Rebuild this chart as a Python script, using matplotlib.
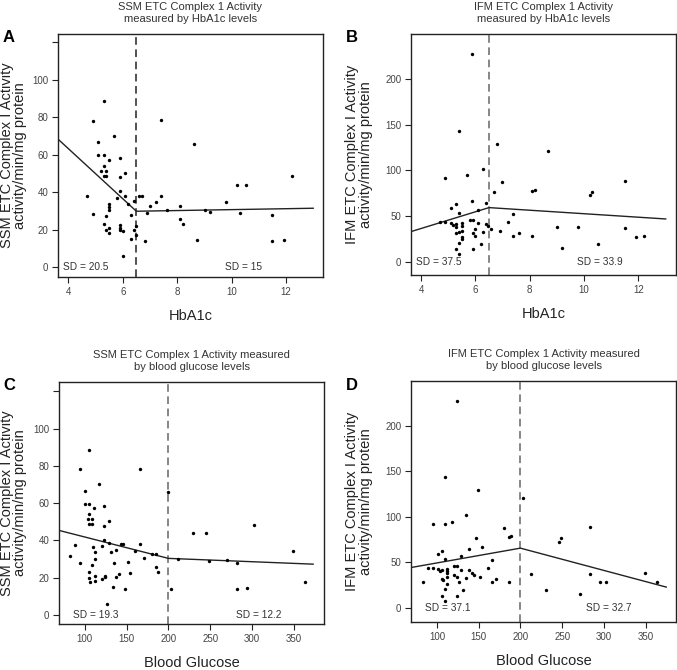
import matplotlib
matplotlib.use("Agg")
import matplotlib.pyplot as plt
import matplotlib.transforms as mtransforms

plt.rcParams["font.family"] = ["Liberation Sans", "DejaVu Sans"]

# ---- data ----
# Panel A: SSM vs HbA1c
ssm_hba1c_x = [5.30, 4.89, 7.41, 5.69, 5.10, 8.61, 5.10, 5.30, 5.50, 5.90, 5.30, 5.20, 5.40,
               5.30, 5.40, 5.90, 6.10, 12.21, 10.21, 10.52, 4.70, 5.80, 5.90, 6.10, 5.50, 5.50,
               5.50, 6.21, 6.40, 6.60, 6.71, 7.41, 7.01, 7.21, 8.11, 7.61, 6.90, 9.01, 9.21,
               9.81, 10.31, 11.50, 4.89, 5.40, 6.30, 8.11, 8.20, 5.30, 5.40, 5.50, 5.50, 5.90,
               5.90, 5.90, 6.00, 6.40, 6.50, 6.30, 6.50, 6.81, 8.72, 11.50, 11.92, 6.00]
ssm_hba1c_y = [88.4, 78.1, 78.5, 70.1, 66.5, 65.8, 59.6, 59.6, 57.3, 58.2, 54.1, 51.4, 51.1,
               48.8, 48.8, 48.0, 50.2, 48.4, 43.9, 43.9, 37.7, 36.8, 40.4, 38.1, 33.8, 32.0,
               30.2, 33.6, 35.1, 38.1, 38.1, 37.7, 32.7, 34.5, 32.7, 30.6, 28.8, 30.2, 29.2,
               34.5, 28.8, 27.6, 28.1, 27.2, 27.9, 25.6, 23.1, 23.0, 19.9, 18.1, 20.8, 22.6,
               20.8, 19.9, 19.0, 19.9, 21.7, 14.9, 17.3, 14.1, 14.2, 14.1, 14.6, 5.7]
ssm_hba1c_fit_x = [3.62, 6.5, 13.0]
ssm_hba1c_fit_y = [68.3, 29.8, 31.4]

# Panel B: IFM vs HbA1c
ifm_hba1c_x = [5.88, 5.38, 6.79, 8.68, 6.28, 4.88, 5.69, 6.98, 11.49, 6.68, 8.09, 8.18, 10.20,
               10.30, 5.88, 6.39, 5.28, 5.09, 5.38, 6.09, 7.39, 4.69, 4.88, 5.09, 5.19, 5.28,
               5.28, 5.49, 5.49, 5.80, 5.90, 6.09, 5.99, 6.39, 6.48, 6.58, 6.29, 5.90, 5.99,
               5.28, 5.38, 5.49, 5.49, 5.49, 5.38, 6.19, 5.28, 5.90, 5.38, 6.89, 7.19, 7.39,
               7.60, 8.09, 8.99, 9.19, 9.79, 10.50, 11.49, 11.90, 12.20]
ifm_hba1c_y = [227.3, 143.5, 129.3, 121.3, 101.6, 92.2, 94.7, 87.4, 88.9, 76.5, 77.2, 78.3, 72.9,
               76.1, 67.0, 64.8, 63.4, 58.7, 53.9, 56.8, 52.1, 43.4, 43.4, 42.3, 40.1, 41.2,
               38.6, 42.3, 39.7, 45.9, 45.9, 42.3, 36.1, 41.2, 39.3, 35.7, 33.2, 31.7, 28.4,
               31.3, 32.4, 34.2, 27.7, 25.1, 21.1, 20.0, 13.8, 13.8, 8.4, 33.5, 43.7, 28.8,
               32.1, 28.8, 37.9, 14.9, 37.9, 20.0, 37.5, 27.7, 28.4]
ifm_hba1c_fit_x = [3.63, 6.5, 13.0]
ifm_hba1c_fit_y = [33.2, 59.4, 47.0]

# Panel C: SSM vs blood glucose
ssm_bg_x = [105.6, 94.8, 166.3, 117.5, 100.8, 200.0, 100.8, 105.6, 123.0, 111.5, 105.6, 104.0,
            108.7, 105.6, 108.7, 123.0, 128.6, 123.0, 128.6, 88.9, 120.6, 143.7, 146.0, 166.3,
            109.5, 137.3, 131.0, 111.9, 159.9, 180.2, 185.7, 82.9, 111.9, 171.0, 94.8, 134.5,
            151.2, 108.7, 185.7, 188.1, 154.4, 105.6, 140.5, 137.3, 111.9, 123.8, 123.8, 105.6,
            120.6, 111.9, 106.3, 134.1, 148.4, 126.2, 203.2, 211.9, 229.4, 245.2, 248.4, 270.2,
            282.1, 282.1, 294.0, 302.0, 348.4, 362.7]
ssm_bg_y = [88.6, 78.4, 78.4, 70.4, 66.6, 66.1, 59.8, 59.8, 58.4, 57.5, 54.3, 51.4,
            51.3, 48.8, 48.8, 48.0, 50.4, 40.5, 38.4, 37.7, 37.0, 38.0, 38.0, 37.9,
            36.3, 34.8, 33.6, 33.9, 34.6, 32.9, 32.7, 31.8, 30.0, 30.7, 28.0, 28.0,
            28.6, 27.1, 25.7, 23.0, 22.7, 23.0, 22.0, 20.2, 20.9, 21.2, 20.5, 20.0,
            19.1, 18.0, 17.9, 14.8, 13.8, 5.7, 13.9, 30.2, 44.1, 44.1, 28.8, 29.3,
            27.7, 13.9, 14.6, 48.4, 34.6, 17.9]
ssm_bg_fit_x = [69.3, 200, 373]
ssm_bg_fit_y = [45.4, 30.4, 27.3]

# Panel D: IFM vs blood glucose
ifm_bg_x = [123.5, 109.2, 148.6, 203.5, 134.6, 95.2, 110.0, 117.9, 283.1, 180.4, 186.4, 188.4,
            245.7, 248.9, 146.6, 137.8, 154.5, 106.0, 100.8, 129.1, 109.2, 166.5, 89.3, 94.8,
            100.8, 103.6, 106.0, 111.5, 111.9, 120.3, 123.5, 129.1, 137.8, 141.8, 143.8, 151.8,
            160.9, 111.9, 120.3, 123.5, 106.0, 107.2, 134.6, 111.5, 126.0, 171.3, 166.5, 186.4,
            83.3, 111.9, 109.2, 131.8, 106.0, 123.5, 109.2, 212.3, 230.2, 270.8, 283.1, 295.1,
            302.6, 349.6, 363.5]
ifm_bg_y = [227.4, 143.4, 129.9, 121.2, 101.5, 92.0, 92.3, 94.5, 89.1, 87.6, 77.7, 78.5,
            72.6, 76.3, 76.3, 65.0, 67.2, 63.1, 58.8, 56.6, 53.6, 52.2, 43.8, 43.4,
            42.7, 40.5, 41.2, 42.7, 40.1, 46.4, 46.4, 42.0, 41.2, 38.3, 36.5, 33.6,
            43.4, 38.3, 36.5, 33.9, 31.8, 31.0, 32.8, 33.9, 28.8, 31.8, 28.8, 28.8,
            28.5, 25.9, 20.8, 19.3, 13.5, 13.5, 7.7, 37.6, 19.7, 15.0, 37.6, 28.1,
            28.1, 38.0, 28.8]
ifm_bg_fit_x = [69.3, 200, 374.7]
ifm_bg_fit_y = [44.5, 65.7, 23.0]

W, H = 677, 670
fig = plt.figure(figsize=(W / 100, H / 100), dpi=100)


def px_axes(l, t, r, b):
    return fig.add_axes([l / W, 1 - b / H, (r - l) / W, (b - t) / H])


panels = [
    dict(box=(58, 34, 323, 277), x=ssm_hba1c_x, y=ssm_hba1c_y, fx=ssm_hba1c_fit_x, fy=ssm_hba1c_fit_y,
         cut=6.5, xlim=(3.62, 13.36), ylim=(-5.3, 124.4), xt=[4, 6, 8, 10, 12],
         yt=[0, 20, 40, 60, 80, 100, 120], ylab_skip=[120],
         title="SSM ETC Complex 1 Activity\nmeasured by HbA1c levels", letter="A",
         ylab="SSM ETC Complex I Activity\nactivity/min/mg protein", xlab="HbA1c",
         sd=("SD = 20.5", "SD = 15"), sdx=(0.02, 0.63), cutc="#222222"),
    dict(box=(411, 34, 676, 275), x=ifm_hba1c_x, y=ifm_hba1c_y, fx=ifm_hba1c_fit_x, fy=ifm_hba1c_fit_y,
         cut=6.5, xlim=(3.63, 13.38), ylim=(-14.2, 249), xt=[4, 6, 8, 10, 12],
         yt=[0, 50, 100, 150, 200], ylab_skip=[],
         title="IFM ETC Complex 1 Activity\nmeasured by HbA1c levels", letter="B",
         ylab="IFM ETC Complex I Activity\nactivity/min/mg protein", xlab="HbA1c",
         sd=("SD = 37.5", "SD = 33.9"), sdx=(0.02, 0.626), cutc="#666666"),
    dict(box=(59, 382, 324, 624), x=ssm_bg_x, y=ssm_bg_y, fx=ssm_bg_fit_x, fy=ssm_bg_fit_y,
         cut=200, xlim=(69.3, 386), ylim=(-4.8, 125), xt=[100, 150, 200, 250, 300, 350],
         yt=[0, 20, 40, 60, 80, 100, 120], ylab_skip=[120],
         title="SSM ETC Complex 1 Activity measured\nby blood glucose levels", letter="C",
         ylab="SSM ETC Complex I Activity\nactivity/min/mg protein", xlab="Blood Glucose",
         sd=("SD = 19.3", "SD = 12.2"), sdx=(0.053, 0.668), cutc="#666666"),
    dict(box=(411, 381, 676, 622), x=ifm_bg_x, y=ifm_bg_y, fx=ifm_bg_fit_x, fy=ifm_bg_fit_y,
         cut=200, xlim=(68.9, 386.4), ylim=(-15.3, 249), xt=[100, 150, 200, 250, 300, 350],
         yt=[0, 50, 100, 150, 200], ylab_skip=[],
         title="IFM ETC Complex 1 Activity measured\nby blood glucose levels", letter="D",
         ylab="IFM ETC Complex I Activity\nactivity/min/mg protein", xlab="Blood Glucose",
         sd=("SD = 37.1", "SD = 32.7"), sdx=(0.053, 0.66), cutc="#666666"),
]

for p in panels:
    l, t, r, b = p["box"]
    ax = px_axes(l, t, r, b)
    ax.scatter(p["x"], p["y"], s=6, color="black", linewidths=0, zorder=3)
    ax.plot(p["fx"], p["fy"], color="#222222", lw=1.0, zorder=2)
    ax.axvline(p["cut"], color=p["cutc"], lw=1.1, ls=(0, (5, 3)), zorder=1)
    ax.set_xlim(*p["xlim"])
    ax.set_ylim(*p["ylim"])
    ax.set_xticks(p["xt"])
    ax.set_yticks(p["yt"])
    ax.set_yticklabels(["" if v in p["ylab_skip"] else str(v) for v in p["yt"]])
    ax.tick_params(length=4, width=0.8, pad=3, labelsize=7, colors="#222222", labelcolor="#444444")
    for s in ax.spines.values():
        s.set_linewidth(1.0)
        s.set_color("#222222")

    trans = mtransforms.blended_transform_factory(ax.transAxes, ax.transData)
    ax.text(p["sdx"][0], 0, p["sd"][0], transform=trans, fontsize=7.3, color="#333333",
            ha="left", va="center")
    ax.text(p["sdx"][1], 0, p["sd"][1], transform=trans, fontsize=7.3, color="#333333",
            ha="left", va="center")

    cx = (l + r) / 2
    cy = (t + b) / 2
    fig.text(cx / W, 1 - (t - 21) / H, p["title"], fontsize=8, color="#333333",
             ha="center", va="center", linespacing=1.2)
    fig.text((9 if l < 300 else 352) / W, 1 - (t + 4) / H, p["letter"], fontsize=12,
             fontweight="bold", ha="center", va="center")
    fig.text(((13.5 if l < 300 else 359)) / W, 1 - cy / H, p["ylab"], fontsize=10.5,
             rotation=90, ha="center", va="center", linespacing=0.95, color="#222222")
    fig.text(cx / W, 1 - (b + 39) / H, p["xlab"], fontsize=10.5, color="#222222",
             ha="center", va="center")

fig.savefig("out.png", dpi=100)
